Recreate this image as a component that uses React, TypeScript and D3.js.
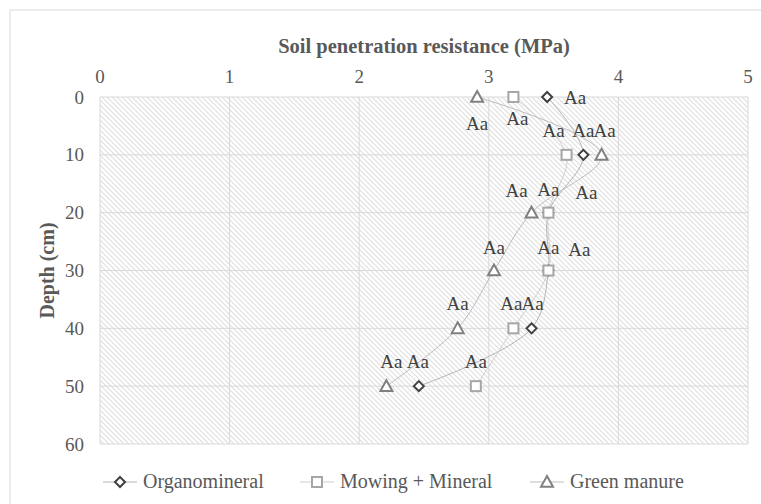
import React from "react";
import * as d3 from "d3";

const depths = [0, 10, 20, 30, 40, 50];
const organomineral = [3.45, 3.73, 3.46, 3.46, 3.33, 2.46];
const mowingMineral = [3.19, 3.6, 3.46, 3.46, 3.19, 2.9];
const greenManure = [2.91, 3.87, 3.33, 3.04, 2.76, 2.21];
const xTicks = [0, 1, 2, 3, 4, 5];
const yTicks = [0, 10, 20, 30, 40, 50, 60];
const pointLabels = ["Aa", "Aa", "Aa", "Aa", "Aa", "Aa"];
// label offsets (in px) relative to each point: [dx, dy]
const orgLabelOff = [[28, 0], [0, -25], [38, -21], [31, -22], [1, -25], [-1, -25]];
const mowLabelOff = [[4, 21], [-13, -25], [0, -24], [0, -24], [-2, -25], [0, -25]];
const greenLabelOff = [[0, 26], [3, -25], [-15, -23], [0, -24], [0, -25], [5, -25]];

const W = 761;
const H = 504;
const FONT = '"Liberation Serif", "DejaVu Serif", "Times New Roman", serif';

export default function App() {
  const x = d3.scaleLinear().domain([0, 5]).range([100, 748]);
  const y = d3.scaleLinear().domain([0, 60]).range([97, 444]);

  const line = d3
    .line<[number, number]>()
    .x((d) => x(d[0]))
    .y((d) => y(d[1]))
    .curve(d3.curveCatmullRom.alpha(0.5));

  const series = [
    { name: "Organomineral", vals: organomineral, marker: "diamond", stroke: "#404040", line: "#b4b4b4", off: orgLabelOff },
    { name: "Mowing + Mineral", vals: mowingMineral, marker: "square", stroke: "#a6a6a6", line: "#cfcfcf", off: mowLabelOff },
    { name: "Green manure", vals: greenManure, marker: "triangle", stroke: "#808080", line: "#bdbdbd", off: greenLabelOff },
  ];

  const drawMarker = (type: string, cx: number, cy: number, stroke: string, key: string) => {
    if (type === "diamond") {
      const r = 5;
      return (
        <path key={key} d={`M${cx},${cy - r}L${cx + r},${cy}L${cx},${cy + r}L${cx - r},${cy}Z`} fill="#fff" stroke={stroke} strokeWidth={2} />
      );
    }
    if (type === "square") {
      const s = 10;
      return <rect key={key} x={cx - s / 2} y={cy - s / 2} width={s} height={s} fill="#fff" stroke={stroke} strokeWidth={2} />;
    }
    const r = 6;
    return (
      <path key={key} d={`M${cx},${cy - r}L${cx + r},${cy + r * 0.8}L${cx - r},${cy + r * 0.8}Z`} fill="#fff" stroke={stroke} strokeWidth={2} />
    );
  };

  const legendItems = [
    { s: series[0], x0: 103 },
    { s: series[1], x0: 300 },
    { s: series[2], x0: 530 },
  ];

  return (
    <svg width={W} height={H} style={{ position: "absolute", left: 0, top: 0, fontFamily: FONT }}>
      <defs>
        <pattern id="hatch" patternUnits="userSpaceOnUse" width={5} height={5}>
          <rect width={5} height={5} fill="#ffffff" />
          <path d="M-1,-1L6,6M-1,4L1,6M4,-1L6,1" stroke="#e0e0e0" strokeWidth={1.2} />
        </pattern>
      </defs>
      <rect x={0} y={0} width={W} height={H} fill="#fff" />
      <rect x={10} y={10} width={W + 10} height={H + 10} fill="none" stroke="#d9d9d9" strokeWidth={1} />

      {/* plot area */}
      <rect x={x(0)} y={y(0)} width={x(5) - x(0)} height={y(60) - y(0)} fill="url(#hatch)" />
      {xTicks.map((t) => (
        <line key={"gx" + t} x1={x(t)} x2={x(t)} y1={y(0)} y2={y(60)} stroke="#d9d9d9" strokeWidth={1} />
      ))}
      {yTicks.map((t) => (
        <line key={"gy" + t} x1={x(0)} x2={x(5)} y1={y(t)} y2={y(t)} stroke="#d9d9d9" strokeWidth={1} />
      ))}

      {/* axes labels */}
      {xTicks.map((t) => (
        <text key={"xt" + t} x={x(t)} y={83} textAnchor="middle" fontSize={19} fill="#595959">
          {t}
        </text>
      ))}
      {yTicks.map((t) => (
        <text key={"yt" + t} x={84} y={y(t) + 6.5} textAnchor="end" fontSize={19} fill="#595959">
          {t}
        </text>
      ))}
      <text x={(x(0) + x(5)) / 2} y={53} textAnchor="middle" fontSize={20.5} fontWeight="bold" fill="#595959">
        Soil penetration resistance (MPa)
      </text>
      <text
        transform={`translate(54,${(y(0) + y(60)) / 2}) rotate(-90)`}
        textAnchor="middle"
        fontSize={20}
        fontWeight="bold"
        fill="#595959"
      >
        Depth (cm)
      </text>

      {/* lines */}
      {series.map((s) => (
        <path
          key={"l" + s.name}
          d={line(s.vals.map((v, i) => [v, depths[i]] as [number, number])) || ""}
          fill="none"
          stroke={s.line}
          strokeWidth={1}
        />
      ))}
      {/* markers */}
      {series.map((s) => s.vals.map((v, i) => drawMarker(s.marker, x(v), y(depths[i]), s.stroke, s.name + i)))}
      {/* labels */}
      {series.map((s) =>
        s.vals.map((v, i) => (
          <text
            key={"lab" + s.name + i}
            x={x(v) + s.off[i][0]}
            y={y(depths[i]) + s.off[i][1] + 7}
            textAnchor="middle"
            fontSize={19}
            fill="#404040"
          >
            {pointLabels[i]}
          </text>
        ))
      )}

      {/* legend */}
      {legendItems.map(({ s, x0 }) => (
        <g key={"lg" + s.name}>
          <line x1={x0} x2={x0 + 34} y1={482} y2={482} stroke={s.line} strokeWidth={1} />
          {drawMarker(s.marker, x0 + 17, 482, s.stroke, "lm" + s.name)}
          <text x={x0 + 40} y={488} fontSize={20} fill="#595959">
            {s.name}
          </text>
        </g>
      ))}
    </svg>
  );
}
